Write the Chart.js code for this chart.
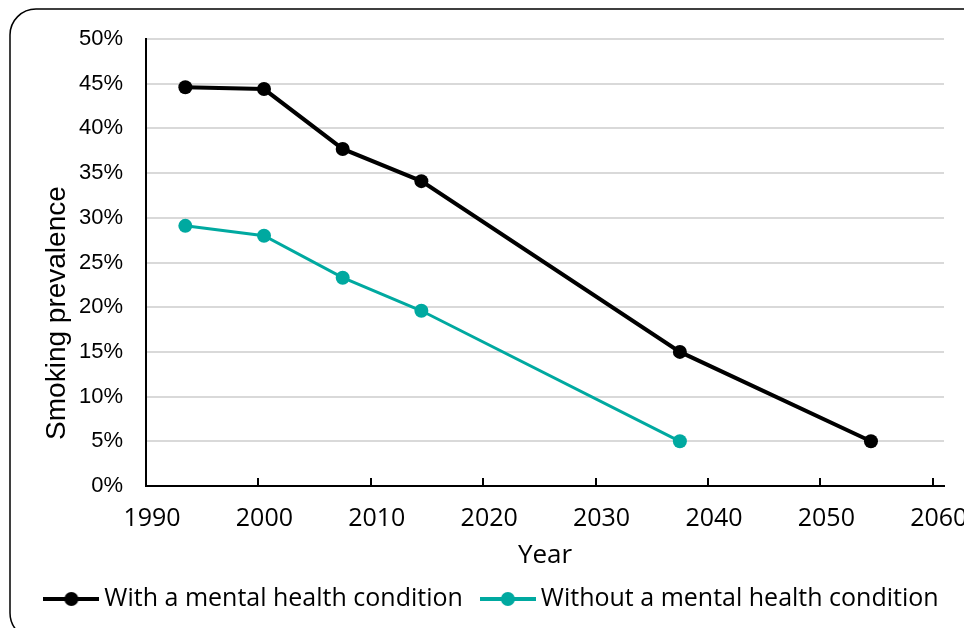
<!DOCTYPE html>
<html>
<head>
<meta charset="utf-8">
<script src="https://cdn.jsdelivr.net/npm/chart.js@4"></script>
<style>
  html, body { margin: 0; padding: 0; background: #fff; }
  #chart { display: block; }
</style>
</head>
<body>
<canvas id="chart" width="964" height="628"></canvas>
<script>
// data
var withYears = [1993.5, 2000.5, 2007.5, 2014.5, 2037.5, 2054.5];
var withValues = [44.6, 44.4, 37.7, 34.1, 15.0, 5.0];
var withoutYears = [1993.5, 2000.5, 2007.5, 2014.5, 2037.5];
var withoutValues = [29.1, 28.0, 23.3, 19.6, 5.0];
var seriesNames = ["With a mental health condition", "Without a mental health condition"];
var seriesColors = ["#000000", "#00A9A0"];
var yTicks = [0, 5, 10, 15, 20, 25, 30, 35, 40, 45, 50];
var xTicks = [1990, 2000, 2010, 2020, 2030, 2040, 2050, 2060];

function toPoints(xs, ys){
    return xs.map(function(x, i){ return {x: x, y: ys[i]}; });
}

//little line+dot icon for the legend
function legendIcon(color){
    var c = document.createElement("canvas");
    c.width = 56; c.height = 16;
    var g = c.getContext("2d");
    g.strokeStyle = color;
    g.lineWidth = 4;
    g.beginPath(); g.moveTo(0, 8); g.lineTo(56, 8); g.stroke();
    g.fillStyle = color;
    g.beginPath(); g.arc(28, 8, 7, 0, Math.PI * 2); g.fill();
    return c;
}
var icons = seriesColors.map(legendIcon);

//rounded frame round the whole picture + inward tick marks on the x axis
var decor = {
    id: "decor",
    beforeDraw: function(chart){
        var ctx = chart.ctx;
        ctx.save();
        ctx.fillStyle = "#fff";
        ctx.fillRect(0, 0, chart.width, chart.height);
        ctx.strokeStyle = "#000";
        ctx.lineWidth = 1.5;
        ctx.beginPath();
        ctx.roundRect(10, 9, 980, 630, 26);
        ctx.stroke();
        ctx.restore();
    },
    afterDraw: function(chart){
        var ctx = chart.ctx, xs = chart.scales.x, area = chart.chartArea;
        ctx.save();
        ctx.strokeStyle = "#000";
        ctx.lineWidth = 2;
        xs.ticks.forEach(function(t){
            var px = Math.round(xs.getPixelForValue(t.value));
            ctx.beginPath();
            ctx.moveTo(px, area.bottom);
            ctx.lineTo(px, area.bottom - 8);
            ctx.stroke();
        });
        ctx.restore();
    }
};

var chartData = {
    type: "line",
    data: {
        datasets: [{
            label: seriesNames[0],
            data: toPoints(withYears, withValues),
            borderColor: seriesColors[0],
            backgroundColor: seriesColors[0],
            borderWidth: 4,
            pointRadius: 7,
            pointHoverRadius: 7,
            pointBorderWidth: 0
        }, {
            label: seriesNames[1],
            data: toPoints(withoutYears, withoutValues),
            borderColor: seriesColors[1],
            backgroundColor: seriesColors[1],
            borderWidth: 3,
            pointRadius: 7,
            pointHoverRadius: 7,
            pointBorderWidth: 0
        }]
    },
    options: {
        responsive: false,
        animation: false,
        //left padding nudges the centred legend to the right like the original
        layout: {padding: {left: 25.5, top: 39, right: 0, bottom: 6.5}},
        plugins: {
            tooltip: {enabled: false},
            legend: {
                position: "bottom",
                labels: {
                    usePointStyle: true,
                    pointStyleWidth: 41,
                    boxHeight: 16,
                    padding: 24.5,
                    color: "#000",
                    font: {family: "Open Sans", size: 25},
                    generateLabels: function(chart){
                        return Chart.defaults.plugins.legend.labels.generateLabels(chart).map(function(l, i){
                            l.pointStyle = icons[i];
                            return l;
                        });
                    }
                }
            }
        },
        scales: {
            x: {
                type: "linear",
                min: 1990,
                max: 2061,
                grid: {display: false},
                border: {display: true, color: "#000", width: 2},
                ticks: {
                    stepSize: 10,
                    padding: 10,
                    labelOffset: 6,
                    maxRotation: 0,
                    color: "#000",
                    font: {family: "Open Sans", size: 25},
                    callback: function(v){ return String(v); }
                },
                afterBuildTicks: function(scale){
                    scale.ticks = xTicks.map(function(v){ return {value: v}; });
                },
                afterFit: function(scale){
                    scale.height = 76;
                    scale.paddingLeft = 0;
                    scale.paddingRight = 20;
                },
                title: {
                    display: true,
                    text: "Year",
                    color: "#000",
                    font: {family: "Open Sans", size: 26},
                    padding: {top: 0, bottom: -9}
                }
            },
            y: {
                min: 0,
                max: 50,
                grid: {color: "#d9d9d9", lineWidth: 2, drawTicks: false},
                border: {display: true, color: "#000", width: 2},
                ticks: {
                    padding: 23,
                    color: "#000",
                    font: {family: "Liberation Sans", size: 22},
                    callback: function(v){ return v + "%"; }
                },
                afterBuildTicks: function(scale){
                    scale.ticks = yTicks.map(function(v){ return {value: v}; });
                },
                afterFit: function(scale){
                    scale.width = 120.5;
                    scale.paddingTop = 0;
                    scale.paddingBottom = 0;
                },
                title: {
                    display: true,
                    // trailing spaces push the centred text down like in the original
                    text: "Smoking prevalence             ",
                    color: "#000",
                    font: {family: "Liberation Sans", size: 28},
                    padding: {top: 15, bottom: 0}
                }
            }
        }
    },
    plugins: [decor]
};

var ctx = document.getElementById("chart");
var chart = new Chart(ctx, chartData);
</script>
</body>
</html>
